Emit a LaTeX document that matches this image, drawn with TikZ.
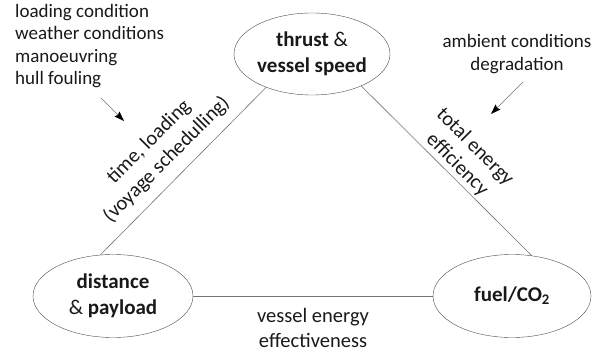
\documentclass[tikz,border=0pt]{standalone}
\usepackage{fontspec}
\setmainfont{Carlito}
\usetikzlibrary{shapes.geometric,arrows.meta}

\begin{document}
\begin{tikzpicture}[x=1pt,y=1pt,
    goal/.style={ellipse,draw=black!70,inner sep=0pt,minimum width=158pt,minimum height=83pt,
      align=center,text=black!90,font=\fontsize{21}{25.5}\selectfont},
    link/.style={draw=black!55,line width=0.6pt},
    note/.style={inner sep=0pt,text=black!90,font=\fontsize{19}{22.5}\selectfont},
    tag/.style={inner sep=0pt,align=center,text=black!90,font=\fontsize{20.5}{25}\selectfont},
    push/.style={draw=black!55,line width=0.6pt,-{Stealth[length=10pt,width=7pt,inset=1.5pt,black]}}]
  \useasboundingbox (0,0) rectangle (604,354);

  % the three quantities
  \node[goal,minimum width=156pt,minimum height=82pt] (thrust) at (312,300) {\textbf{thrust} \&\\\textbf{vessel speed}};
  \node[goal,minimum width=160pt] (dist) at (113,58) {\textbf{distance}\\\& \textbf{payload}};
  \node[goal] (fuel) at (512,58) {\textbf{fuel/CO\textsubscript{2}}};

  \draw[link] (thrust.216) -- (dist.107);
  \draw[link] (thrust.327) -- (fuel.64);
  \draw[link] (dist.east) -- (fuel.west);

  % what links them
  \node[tag,rotate=45] (sched) at (158,203) {time, loading\\(voyage schedulling)};
  \node[tag,rotate=-45] (total) at (466,198) {total energy\\efficiency};
  \node[tag] (effect) at (313,26) {vessel energy\\effectiveness};

  % outside influences
  \node[note,anchor=west,align=left] (ops) at (15,308) {loading condition\\weather conditions\\manoeuvring\\hull fouling};
  \node[note,align=center] (amb) at (517,300) {ambient conditions\\degradation};
  \coordinate (opsA) at (101,256);
  \coordinate (opsB) at (124,233);
  \coordinate (ambA) at (523,272);
  \coordinate (ambB) at (491,240);
  \draw[push] (opsA) -- (opsB);
  \draw[push] (ambA) -- (ambB);
\end{tikzpicture}
\end{document}
